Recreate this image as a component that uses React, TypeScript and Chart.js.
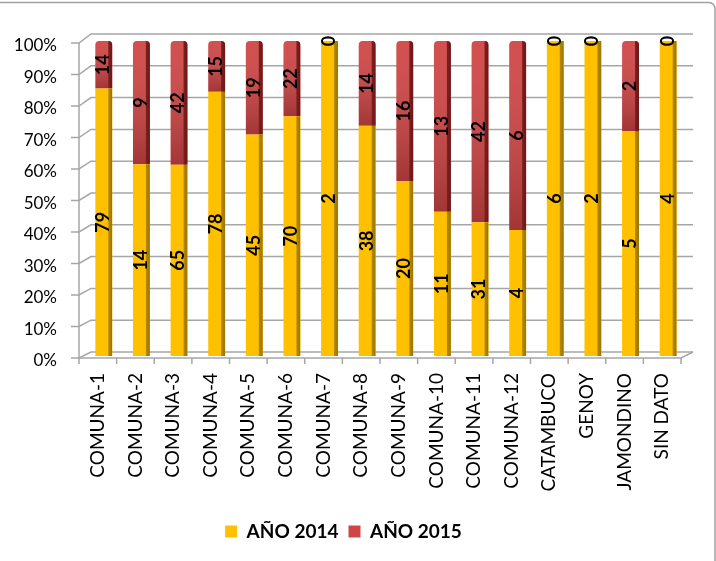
import React, { useEffect, useRef } from "react";
import { Chart, registerables } from "chart.js";

Chart.register(...registerables);

const categories = [
  "COMUNA-1", "COMUNA-2", "COMUNA-3", "COMUNA-4", "COMUNA-5", "COMUNA-6",
  "COMUNA-7", "COMUNA-8", "COMUNA-9", "COMUNA-10", "COMUNA-11", "COMUNA-12",
  "CATAMBUCO", "GENOY", "JAMONDINO", "SIN DATO",
];
const values2014 = [79, 14, 65, 78, 45, 70, 2, 38, 20, 11, 31, 4, 6, 2, 5, 4];
const values2015 = [14, 9, 42, 15, 19, 22, 0, 14, 16, 13, 42, 6, 0, 0, 2, 0];
const seriesLabels = ["AÑO 2014", "AÑO 2015"];
const yTickStep = 10;

const totals = values2014.map((v, i) => v + values2015[i]);
const pct2014 = values2014.map((v, i) => (v / totals[i]) * 100);
const pct2015 = values2015.map((v, i) => (v / totals[i]) * 100);
const rawValues = [values2014, values2015];

const YELLOW = "#FFC000";
const YELLOW_SIDE = "#B88A00";
const RED = "#CF4444";
const RED_SIDE = "#7E1F1F";

const wallPlugin = {
  id: "wall3d",
  beforeDraw(chart: any) {
    const { ctx } = chart;
    ctx.save();
    ctx.strokeStyle = "#A0A0A0";
    ctx.lineWidth = 1.5;
    ctx.beginPath();
    (ctx as any).roundRect(-20, 2.5, 735, 580, 6);
    ctx.stroke();
    ctx.restore();
  },
  beforeDatasetsDraw(chart: any) {
    const { ctx, chartArea } = chart;
    const x = chart.scales.x;
    const y = chart.scales.y;
    const left = chartArea.left;
    const right = chartArea.right;
    const fxL = left - 6;
    const fxR = right - 6;
    const bxL = left + 6;
    const bxR = right + 6;
    ctx.save();
    ctx.strokeStyle = "#A6A6A6";
    ctx.lineWidth = 1.5;
    for (let v = 0; v <= 100; v += yTickStep) {
      const yb = y.getPixelForValue(v);
      const fy = yb + 2;
      const by = yb - 4 - (3 * v) / 100;
      ctx.beginPath();
      ctx.moveTo(fxL - 8, fy);
      ctx.lineTo(fxL, fy);
      ctx.lineTo(bxL, by);
      ctx.lineTo(bxR, by);
      ctx.stroke();
    }
    const y0 = y.getPixelForValue(0);
    const y100 = y.getPixelForValue(100);
    ctx.beginPath();
    ctx.moveTo(fxL, y100 + 2);
    ctx.lineTo(fxL, y0 + 2);
    ctx.lineTo(fxR, y0 + 2);
    ctx.lineTo(bxR, y0 - 4);
    ctx.stroke();
    const step = x.getPixelForValue(1) - x.getPixelForValue(0);
    for (let i = 0; i <= categories.length; i++) {
      const xx = x.getPixelForValue(0) - step / 2 + i * step - 6;
      ctx.beginPath();
      ctx.moveTo(xx, y0 + 2);
      ctx.lineTo(xx, y0 + 8);
      ctx.stroke();
    }
    ctx.restore();
  },
  afterDatasetsDraw(chart: any) {
    const { ctx } = chart;
    chart.data.datasets.forEach((_ds: any, di: number) => {
      const meta = chart.getDatasetMeta(di);
      meta.data.forEach((el: any) => {
        const { x: bx, y: by, base, width } = el.getProps(["x", "y", "base", "width"], true);
        const top = Math.min(by, base);
        const bot = Math.max(by, base);
        const h = bot - top;
        if (h <= 0.5) return;
        const l = bx - width / 2;
        ctx.save();
        ctx.beginPath();
        if (di === 1) (ctx as any).roundRect(l, top, width, h, [4, 4, 0, 0]);
        else ctx.rect(l, top, width, h);
        ctx.clip();
        if (di === 1) {
          const g = ctx.createLinearGradient(0, top, 0, bot);
          g.addColorStop(0, "rgba(255,255,255,0.06)");
          g.addColorStop(1, "rgba(0,0,0,0.22)");
          ctx.fillStyle = g;
          ctx.fillRect(l, top, width, h);
        }
        const sg = ctx.createLinearGradient(l + width - 4, 0, l + width, 0);
        sg.addColorStop(0, di === 1 ? RED_SIDE : YELLOW_SIDE);
        sg.addColorStop(1, di === 1 ? "#6A1818" : "#9C7400");
        ctx.fillStyle = sg;
        ctx.fillRect(l + width - 4, top, 4, h);
        ctx.restore();
      });
    });
    // data labels
    ctx.save();
    ctx.font = "bold 18px Lato";
    ctx.fillStyle = "#000";
    ctx.textAlign = "center";
    ctx.textBaseline = "middle";
    chart.data.datasets.forEach((_ds: any, di: number) => {
      const meta = chart.getDatasetMeta(di);
      meta.data.forEach((el: any, i: number) => {
        const { x: bx, y: by, base } = el.getProps(["x", "y", "base"], true);
        const cy = (by + base) / 2;
        ctx.save();
        ctx.translate(bx - 1.5, cy);
        ctx.rotate(-Math.PI / 2);
        ctx.fillText(String(rawValues[di][i]), 0, 1);
        ctx.restore();
      });
    });
    ctx.restore();
  },
};

export default function App() {
  const ref = useRef<HTMLCanvasElement | null>(null);
  useEffect(() => {
    if (!ref.current) return;
    const chart = new Chart(ref.current, {
      type: "bar",
      data: {
        labels: categories,
        datasets: [
          {
            label: seriesLabels[0],
            data: pct2014,
            backgroundColor: YELLOW,
            borderColor: "#B88A00",
            borderWidth: 0,
          },
          {
            label: seriesLabels[1],
            data: pct2015,
            backgroundColor: RED,
            borderColor: "#8B2525",
            borderWidth: 0,
            borderRadius: { topLeft: 4, topRight: 4, bottomLeft: 0, bottomRight: 0 },
            borderSkipped: false,
          },
        ],
      },
      options: {
        responsive: false,
        animation: false,
        devicePixelRatio: 1,
        layout: { padding: { top: 41, right: 29, bottom: 10, left: 0 } },
        datasets: { bar: { categoryPercentage: 1, barPercentage: 0.45 } },
        scales: {
          x: {
            stacked: true,
            grid: { display: false, drawTicks: false },
            border: { display: false },
            ticks: {
              autoSkip: false,
              maxRotation: 90,
              minRotation: 90,
              padding: 17,
              labelOffset: -6,
              color: "#000",
              font: { family: "Lato", size: 19 },
            },
            afterFit: (s: any) => {
              s.height = 156;
            },
          },
          y: {
            stacked: true,
            min: 0,
            max: 100,
            grid: { display: false, drawTicks: false },
            border: { display: false },
            ticks: {
              stepSize: yTickStep,
              padding: 28,
              labelOffset: 5,
              color: "#000",
              font: { family: "Lato", size: 17 },
              callback: (v: any) => v + "%",
            },
            afterFit: (s: any) => {
              s.width = 85;
            },
          },
        },
        plugins: {
          tooltip: { enabled: false },
          legend: {
            position: "bottom",
            labels: {
              color: "#000",
              font: { family: "Lato", size: 19, weight: "bold" },
              boxWidth: 12,
              boxHeight: 12,
              padding: 10,
            },
          },
        },
      },
      plugins: [wallPlugin],
    } as any);
    return () => chart.destroy();
  }, []);
  return (
    <div style={{ position: "absolute", left: 0, top: 0, width: 716, height: 561, background: "#fff" }}>
      <canvas ref={ref} width={716} height={561} />
    </div>
  );
}
